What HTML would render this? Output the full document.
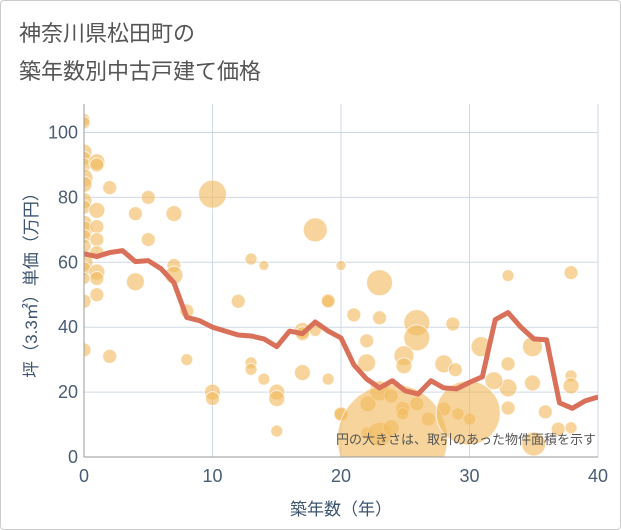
<!DOCTYPE html>
<html><head><meta charset="utf-8"><style>
body{margin:0;background:#fff;}
#wrap{position:relative;width:619px;height:528px;border:1px solid #ccc;border-radius:4px;overflow:hidden;background:#fff;}
.t{font-family:"Liberation Sans","Noto Sans CJK JP",sans-serif;}
</style></head><body>
<div id="wrap">
<svg id="svg" width="619" height="528" xmlns="http://www.w3.org/2000/svg">
<text class="t" x="18" y="40" font-size="22" fill="#555">神奈川県松田町の</text>
<text class="t" x="18" y="78" font-size="22" fill="#555">築年数別中古戸建て価格</text>
<g id="grid"></g>
<g id="yticks"></g>
<g id="xticks"></g>
<g clip-path="url(#clip)">
<defs><clipPath id="clip"><rect x="83" y="103" width="514" height="353"/></clipPath></defs>
<g id="bubbles"></g>
<path id="line" fill="none" stroke="#d9705a" stroke-width="5" stroke-linejoin="round"/>
</g>
<line x1="83" y1="103" x2="83" y2="456" stroke="#999"/>
<line x1="83" y1="456" x2="597" y2="456" stroke="#999"/>
<text class="t" x="595" y="443" font-size="13" fill="#555" text-anchor="end">円の大きさは、取引のあった物件面積を示す</text>
<text class="t" x="340" y="514" font-size="17" fill="#3d5470" text-anchor="middle">築年数（年）</text>
<text class="t" transform="translate(36,280) rotate(-90)" font-size="17" fill="#3d5470" text-anchor="middle">坪（3.3㎡）単価（万円）</text>
</svg></div>
<script>
const lineAges=[0,1,2,3,4,5,6,7,8,9,10,11,12,13,14,15,16,17,18,19,20,21,22,23,24,25,26,27,28,29,30,31,32,33,34,35,36,37,38,39,40];
const lineValues=[62.6,61.8,63,63.6,60.2,60.5,58,53.7,43,42,40,38.8,37.6,37.3,36.4,34,38.8,38,41.6,38.8,36.7,28.4,24,21.3,23.5,20.4,19.4,23.5,21.3,21,23,24.7,42.3,44.5,40,36.4,36.1,16.7,15,17.3,18.5];
const bubbleAges=[0,0,0,0,0,0,0,0,0,0,0,0,0,0,0,0,0,0,1,1,1,1,1,1,1,1,1,2,2,4,4,5,5,7,7,7,8,8,10,10,10,12,13,13,13,14,14,15,15,15,17,17,17,18,18,19,19,20,20,23,19,21,23,25.9,25.9,28.7,22,22,24.9,24.9,28,28.9,30.9,33,37.9,34.9,33,34.9,33,31.9,33,35.9,37.9,37.9,36.9,37.9,35,20,22.1,23,23.9,24.8,25.9,26.8,28,29.1,30,22,23,23.9,24.8,24,29.9];
const bubbleValues=[104,103,94,92,90,86,84,79,77,72,70,68,65,60,58,55,48,33,91,90,76,71,67,63,57,55,50,83,31,75,54,80,67,75,59,56,45,30,81,20,18,48,61,29,27,59,24,20,18,8,39,38,26,70,39,48,24,59,13,53.7,48.1,43.8,42.9,41.4,36.7,41,35.8,29,31.2,28.1,28.7,26.9,34,55.9,56.8,34,28.7,22.8,21.3,23.5,15.1,13.9,25,21.9,8.6,9,4,13.3,16.4,20.4,18.8,15,16.4,11.7,14.8,13.3,11.7,7.4,7,9,13.3,5.5,13.6];
const bubbleSizes=[6,6,8,7,7,9,8,8,7,8,9,7,7,9,7,6,7,7,8,7,8,7,7,7,8,7,7,7,7,7,9,7,7,8,7,9,7,6,14,8,7,7,6,6,6,5,6,8,8,6,8,7,8,12,6,6,6,5,7,13,7,7,7,13,13,7,7,9,10,8,9,7,10,6,7,10,7,8,9,9,7,7,6,8,7,6,12,7,8,10,7,7,7,7,7,6,6,6,12,8,6,55,32];
const xTicks=[0,10,20,30,40];
const yTicks=[0,20,40,60,80,100];
const X=v=>83+v*12.85, Y=v=>456-v*3.245;
const NS="http://www.w3.org/2000/svg";
const grid=document.getElementById('grid'),yt=document.getElementById('yticks'),xt=document.getElementById('xticks');
yTicks.forEach(v=>{
 if(v>0){const l=document.createElementNS(NS,'line');l.setAttribute('x1',83);l.setAttribute('x2',597);l.setAttribute('y1',Y(v));l.setAttribute('y2',Y(v));l.setAttribute('stroke','#cfd9e4');
 
 
 grid.appendChild(l);}
 const t=document.createElementNS(NS,'text');t.setAttribute('x',77);t.setAttribute('y',Y(v)+6);t.setAttribute('text-anchor','end');t.setAttribute('font-size','18');t.setAttribute('fill','#4a5d75');t.setAttribute('class','t');t.textContent=v;
 
 
 yt.appendChild(t);
});
xTicks.forEach(v=>{
 if(v>0){const l=document.createElementNS(NS,'line');l.setAttribute('y1',103);l.setAttribute('y2',456);l.setAttribute('x1',X(v));l.setAttribute('x2',X(v));l.setAttribute('stroke','#cfd9e4');
 
 
 grid.appendChild(l);}
 const t=document.createElementNS(NS,'text');t.setAttribute('x',X(v));t.setAttribute('y',481);t.setAttribute('text-anchor','middle');t.setAttribute('font-size','18');t.setAttribute('fill','#4a5d75');t.setAttribute('class','t');t.textContent=v;
 
 
 xt.appendChild(t);
});
const bg=document.getElementById('bubbles');
bubbleAges.forEach((a,i)=>{
 const c=document.createElementNS(NS,'circle');c.setAttribute('cx',X(a));c.setAttribute('cy',Y(bubbleValues[i]));c.setAttribute('r',bubbleSizes[i]);
 c.setAttribute('fill','#f2b95e');c.setAttribute('fill-opacity','0.62');c.setAttribute('stroke','#fff');c.setAttribute('stroke-opacity','0.7');
 
 
 bg.appendChild(c);
});
document.getElementById('line').setAttribute('d',lineAges.map((a,i)=>(i?'L':'M')+X(a)+','+Y(lineValues[i])).join(''));
</script>
</body></html>
